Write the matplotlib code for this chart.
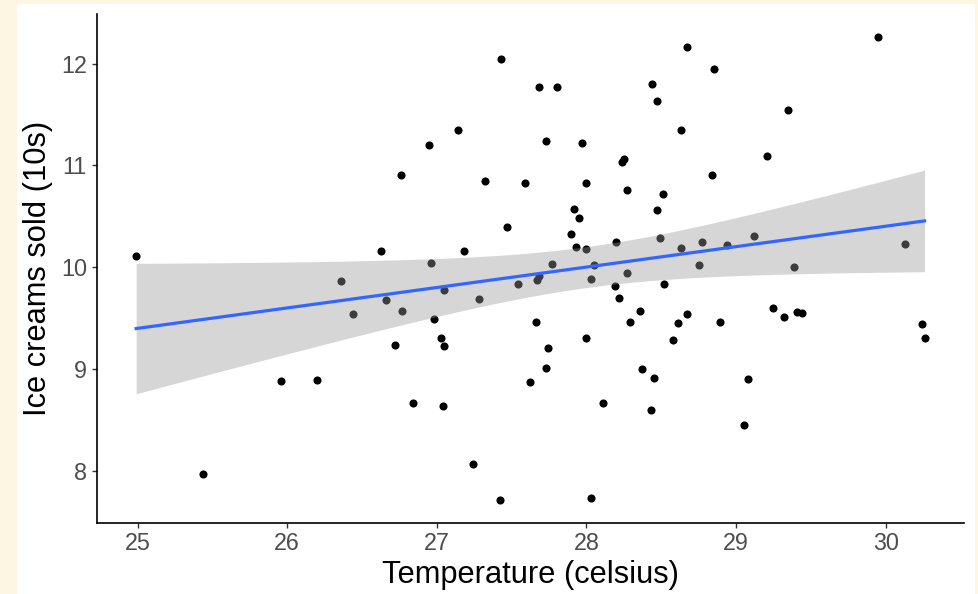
import numpy as np
import matplotlib
matplotlib.use('Agg')
import matplotlib.pyplot as plt
from matplotlib.patches import Rectangle

# temperature (celsius) and ice creams sold (10s)
temperature = [
  24.99, 25.44, 25.96, 26.20, 26.36, 26.44, 26.63, 26.66, 26.72, 26.76,
  26.77, 26.84, 26.95, 26.96, 26.98, 27.03, 27.04, 27.05, 27.05, 27.14,
  27.18, 27.24, 27.28, 27.32, 27.42, 27.43, 27.47, 27.54, 27.59, 27.62,
  27.66, 27.67, 27.68, 27.68, 27.73, 27.73, 27.74, 27.77, 27.80, 27.90,
  27.92, 27.93, 27.95, 27.97, 27.995, 27.995, 28.00, 28.03, 28.03, 28.05,
  28.11, 28.19, 28.20, 28.22, 28.25, 28.24, 28.27, 28.27, 28.29, 28.36,
  28.37, 28.43, 28.44, 28.45, 28.47, 28.47, 28.49, 28.51, 28.52, 28.58,
  28.61, 28.63, 28.63, 28.67, 28.67, 28.75, 28.77, 28.84, 28.85, 28.89,
  28.94, 29.05, 29.08, 29.12, 29.21, 29.25, 29.32, 29.35, 29.39, 29.41,
  29.44, 29.95, 30.13, 30.24, 30.26,
]
ice_creams = [
  10.11, 7.97, 8.88, 8.89, 9.87, 9.54, 10.16, 9.68, 9.24, 10.91,
  9.57, 8.67, 11.20, 10.04, 9.49, 9.31, 8.64, 9.23, 9.78, 11.35,
  10.16, 8.07, 9.69, 10.85, 7.72, 12.05, 10.40, 9.84, 10.83, 8.87,
  9.46, 9.88, 9.91, 11.77, 11.24, 9.01, 9.21, 10.03, 11.77, 10.33,
  10.57, 10.20, 10.48, 11.22, 10.83, 9.31, 10.18, 9.89, 7.74, 10.02,
  8.67, 9.82, 10.25, 9.70, 11.06, 11.03, 10.76, 9.94, 9.46, 9.57,
  9.00, 8.60, 11.80, 8.91, 10.56, 11.63, 10.29, 10.72, 9.84, 9.29,
  9.45, 11.35, 10.19, 9.54, 12.16, 10.02, 10.25, 10.91, 11.95, 9.46,
  10.22, 8.45, 8.90, 10.31, 11.09, 9.60, 9.51, 11.54, 10.00, 9.56,
  9.55, 12.26, 10.23, 9.44, 9.31,
]

x_ticks = [25, 26, 27, 28, 29, 30]
y_ticks = [8, 9, 10, 11, 12]


def linear_fit(x, y, n_grid=80, t_crit=1.986):
  # ordinary least squares with a 95% confidence band (t for 93 df)
  x = np.asarray(x)
  y = np.asarray(y)
  n = len(x)
  slope, intercept = np.polyfit(x, y, 1)
  resid = y - (intercept + slope * x)
  s = np.sqrt(np.sum(resid ** 2) / (n - 2))
  sxx = np.sum((x - x.mean()) ** 2)
  xg = np.linspace(x.min(), x.max(), n_grid)
  yg = intercept + slope * xg
  se = s * np.sqrt(1.0 / n + (xg - x.mean()) ** 2 / sxx)
  return xg, yg, yg - t_crit * se, yg + t_crit * se


def expand(values, mult=0.05):
  lo, hi = min(values), max(values)
  pad = (hi - lo) * mult
  return lo - pad, hi + pad


def main():
  plt.rcParams['font.family'] = ['Liberation Sans', 'DejaVu Sans']

  fig = plt.figure(figsize=(9.79, 5.94), dpi=100, facecolor='#FDF6E3')
  # white plot background inside the cream page
  fig.patches.append(Rectangle((17 / 979, 0), (975 - 17) / 979, (594 - 4) / 594,
                               transform=fig.transFigure, facecolor='white',
                               edgecolor='none', zorder=-10))

  ax = fig.add_axes([96.7 / 979, 71.3 / 594, (964 - 96.7) / 979, (580 - 71.3) / 594])
  ax.set_facecolor('none')

  ax.scatter(temperature, ice_creams, s=34, color='black', linewidths=0, zorder=2)

  xg, yg, lo, hi = linear_fit(temperature, ice_creams)
  ax.fill_between(xg, lo, hi, color='#999999', alpha=0.4, linewidth=0, zorder=3)
  ax.plot(xg, yg, color='#3366FF', linewidth=2.3, zorder=4)

  ax.set_xlim(*expand(temperature))
  ax.set_ylim(*expand(ice_creams))
  ax.set_xticks(x_ticks)
  ax.set_yticks(y_ticks)

  for side in ['top', 'right']:
    ax.spines[side].set_visible(False)
  for side in ['left', 'bottom']:
    ax.spines[side].set_linewidth(1.2)
    ax.spines[side].set_color('black')
  ax.tick_params(length=3.5, width=1.0, color='#333333', labelcolor='#4D4D4D',
                 labelsize=16.8, pad=3.5)

  ax.set_xlabel('Temperature (celsius)', fontsize=22.2, color='black', labelpad=3)
  ax.set_ylabel('Ice creams sold (10s)', fontsize=22.2, color='black', labelpad=6)

  fig.savefig('out.png', dpi=100, facecolor=fig.get_facecolor())
  plt.close('all')


if __name__ == '__main__':
  main()
